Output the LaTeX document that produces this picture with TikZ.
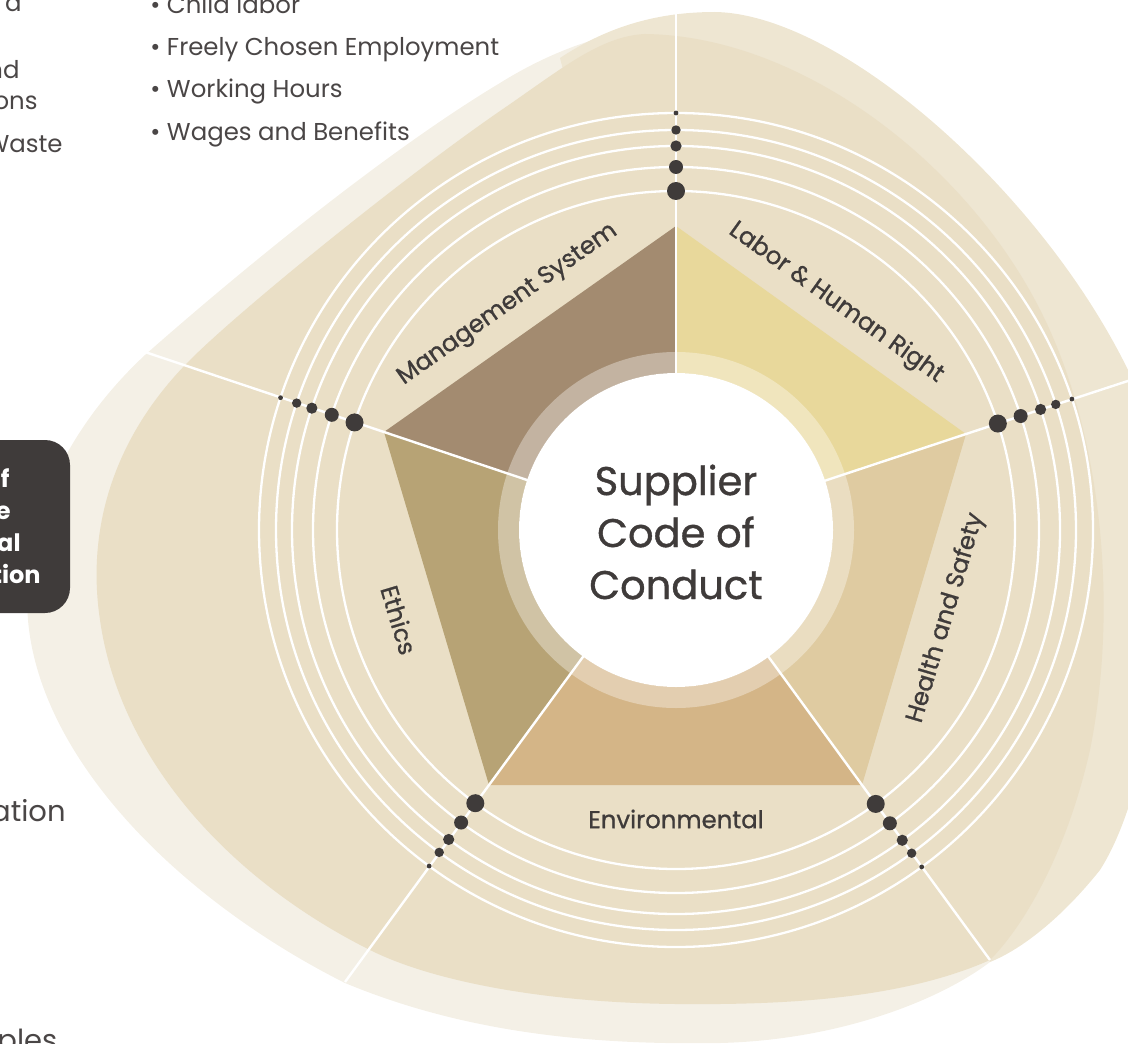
\documentclass[tikz,border=0pt]{standalone}
\usepackage{fontspec}
\setmainfont{Poppins}
\newfontfamily\medfont[FakeBold=0.9]{Poppins}
\definecolor{lightblob}{HTML}{F4F0E6}
\definecolor{trblob}{HTML}{EEE6D2}
\definecolor{midblob}{HTML}{EADFC6}
\definecolor{mgmt}{HTML}{A38B70}
\definecolor{labor}{HTML}{E8D89B}
\definecolor{health}{HTML}{DFCBA1}
\definecolor{env}{HTML}{D4B587}
\definecolor{ethics}{HTML}{B7A375}
\definecolor{darkc}{HTML}{3F3B3A}
\definecolor{textgray}{HTML}{4A4646}
\tikzset{
  spoke/.style={draw=white,line width=1.2pt},
  ringline/.style={draw=white,line width=1.15pt},
  dotc/.style={fill=darkc},
  lbl/.style={text=darkc,font=\medfont\fontsize{12.2}{14}\selectfont,inner sep=0pt},
  bul/.style={text=textgray,font=\fontsize{12.2}{14}\selectfont,anchor=base west,inner sep=0pt},
  frag/.style={text=textgray,font=\fontsize{12.2}{14}\selectfont,anchor=base east,inner sep=0pt},
  bigfrag/.style={text=textgray,font=\fontsize{14.5}{16}\selectfont,inner sep=0pt},
  boxfrag/.style={text=white,font=\bfseries\fontsize{12}{14}\selectfont,anchor=base east,inner sep=0pt}
}
\begin{document}
\begin{tikzpicture}[x=0.5pt,y=-0.5pt]
\useasboundingbox (0,0) rectangle (1128,1043);
\clip (0,0) rectangle (1128,1043);
% blobs
\fill[lightblob] (640,30) .. controls (590,36) and (540,58) .. (500,83)
  .. controls (380,155) and (230,280) .. (145,355)
  .. controls (70,425) and (20,520) .. (28,620)
  .. controls (40,760) and (180,900) .. (345,983)
  .. controls (470,1035) and (600,1045) .. (720,1043)
  .. controls (840,1040) and (940,1000) .. (990,962)
  -- (900,700) -- (700,300) -- cycle;
\fill[trblob] (560,58) .. controls (610,25) and (660,12) .. (715,12)
  .. controls (840,14) and (1040,190) .. (1128,370)
  .. controls (1180,480) and (1170,760) .. (1100,870)
  .. controls (1060,920) and (1020,950) .. (990,962)
  -- (700,600) -- cycle;
\fill[midblob] (645,34) .. controls (800,36) and (960,160) .. (1035,300)
  .. controls (1100,420) and (1120,600) .. (1090,750)
  .. controls (1065,860) and (1020,930) .. (990,960)
  .. controls (900,1000) and (780,1005) .. (676,1004)
  .. controls (560,1003) and (440,985) .. (370,950)
  .. controls (230,880) and (120,760) .. (100,620)
  .. controls (85,520) and (120,430) .. (190,360)
  .. controls (240,310) and (400,180) .. (500,111)
  .. controls (560,70) and (600,36) .. (645,34) -- cycle;
% coordinates
\coordinate (c) at (676,530);
\coordinate (vT) at (676,226);
\coordinate (vR) at (966,434);
\coordinate (vBR) at (862,785);
\coordinate (vBL) at (489,785);
\coordinate (vL) at (384,432);
\coordinate (eT) at (676,10);
\coordinate (eR) at (1140,377);
\coordinate (eBR) at (990,960);
\coordinate (eBL) at (345,982);
\coordinate (eL) at (145,352);
% concentric rings
\foreach \r in {339,363,384,400,417} \draw[ringline] (c) circle (\r);
% sectors
\fill[mgmt] (c) -- (vT) -- (vL) -- cycle;
\fill[labor] (c) -- (vT) -- (vR) -- cycle;
\fill[health] (c) -- (vR) -- (vBR) -- cycle;
\fill[env] (c) -- (vBR) -- (vBL) -- cycle;
\fill[ethics] (c) -- (vBL) -- (vL) -- cycle;
% spokes
\draw[spoke] (c) -- (vT) -- (eT);
\draw[spoke] (c) -- (vR) -- (eR);
\draw[spoke] (c) -- (vBR) -- (eBR);
\draw[spoke] (c) -- (vBL) -- (eBL);
\draw[spoke] (c) -- (vL) -- (eL);
% translucent ring and centre
\fill[white,opacity=0.35,even odd rule] (c) circle (178) (c) circle (157);
\fill[white] (c) circle (157);
% dots
\foreach \a in {-90,-18.3,53.9,126.3,-161.5}{
  \fill[dotc] ([shift={(676,530)}]\a:339) circle (9);
  \fill[dotc] ([shift={(676,530)}]\a:363) circle (7);
  \fill[dotc] ([shift={(676,530)}]\a:384) circle (5.6);
  \fill[dotc] ([shift={(676,530)}]\a:400) circle (4.7);
  \fill[dotc] ([shift={(676,530)}]\a:417) circle (2.4);
}
% centre text
\node[text=darkc,align=center,font=\medfont\fontsize{20}{26}\selectfont] (title) at (676,532) {Supplier\\Code of\\Conduct};
% labels
\node[lbl,rotate=35.2] (lms) at (508,305) {Management System};
\node[lbl,rotate=-35.6] (llh) at (836,303) {Labor \& Human Right};
\node[lbl,rotate=73.5] (lhs) at (946,618) {Health and Safety};
\node[lbl] (lenv) at (676,819) {Environmental};
\node[lbl,rotate=-73.4] (leth) at (399,620) {Ethics};
% bullet list
\node[bul] (b1) at (150,14) {• Child labor};
\node[bul] (b2) at (150,56) {• Freely Chosen Employment};
\node[bul] (b3) at (150,98) {• Working Hours};
\node[bul] (b4) at (150,141) {• Wages and Benefits};
% left fragments
\node[frag] (f1) at (22,12) {a};
\node[frag] (f2) at (20,79) {and};
\node[frag] (f3) at (38,110) {ions};
\node[frag] (f4) at (63,153) {Waste};
\node[bigfrag,anchor=base east] (f5) at (66,821) {ation};
\node[bigfrag,anchor=base west] (f6) at (-3,1050) {ples};
% dark box
\fill[darkc,rounded corners=12.5pt] (-60,440) rectangle (70,613);
\node[boxfrag] (k1) at (10,487) {f};
\node[boxfrag] (k2) at (11,519) {e};
\node[boxfrag] (k3) at (21,551) {al};
\node[boxfrag] (k4) at (41,583) {tion};
\end{tikzpicture}
\end{document}
